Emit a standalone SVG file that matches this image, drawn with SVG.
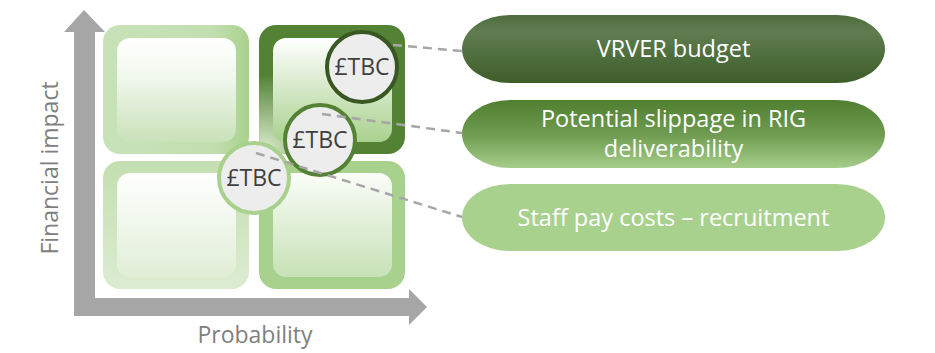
<svg xmlns="http://www.w3.org/2000/svg" width="935" height="353" viewBox="0 0 935 353">
  <defs>
    <linearGradient id="frameLight" x1="0" y1="0" x2="1" y2="0">
      <stop offset="0" stop-color="#c8e2b8"/>
      <stop offset="0.75" stop-color="#c3dfb0"/>
      <stop offset="1" stop-color="#a9d18e"/>
    </linearGradient>
    <linearGradient id="frameFade" x1="0" y1="0" x2="0" y2="1">
      <stop offset="0" stop-color="#c3dfb0"/>
      <stop offset="1" stop-color="#dcecd1"/>
    </linearGradient>
    <linearGradient id="innerTL" x1="0" y1="0" x2="0" y2="1">
      <stop offset="0" stop-color="#ffffff"/>
      <stop offset="0.35" stop-color="#f2f8ee"/>
      <stop offset="1" stop-color="#c9e2b9"/>
    </linearGradient>
    <linearGradient id="innerBL" x1="0" y1="0" x2="0" y2="1">
      <stop offset="0" stop-color="#ffffff"/>
      <stop offset="1" stop-color="#e0eed6"/>
    </linearGradient>
    <linearGradient id="innerTR" x1="0" y1="0" x2="0" y2="1">
      <stop offset="0" stop-color="#ffffff"/>
      <stop offset="1" stop-color="#a9d18e"/>
    </linearGradient>
    <linearGradient id="innerBR" x1="0" y1="0" x2="0" y2="1">
      <stop offset="0" stop-color="#fafdf8"/>
      <stop offset="1" stop-color="#c7e1b6"/>
    </linearGradient>
    <radialGradient id="glowTR" cx="265" cy="150" r="75" gradientUnits="userSpaceOnUse">
      <stop offset="0" stop-color="#d8ebcb" stop-opacity="1"/>
      <stop offset="1" stop-color="#d8ebcb" stop-opacity="0"/>
    </radialGradient>
    <linearGradient id="pillDark" x1="0" y1="0" x2="0" y2="1">
      <stop offset="0" stop-color="#4e6d3c"/>
      <stop offset="0.25" stop-color="#5f7d50"/>
      <stop offset="1" stop-color="#3d5d29"/>
    </linearGradient>
    <linearGradient id="pillMid" x1="0" y1="0" x2="0" y2="1">
      <stop offset="0" stop-color="#4f7f30"/>
      <stop offset="0.5" stop-color="#6e9b50"/>
      <stop offset="1" stop-color="#a6ce8b"/>
    </linearGradient>
    <style>
      .axis { fill: #a6a6a6; }
      .axis-label { font-family: "Open Sans", "Liberation Sans", sans-serif; font-size: 23px; fill: #7f7f7f; }
      .bubble { fill: #ededed; stroke-width: 4; }
      .bubble-text { font-family: "Open Sans", "Liberation Sans", sans-serif; font-size: 23px; fill: #404040; text-anchor: middle; }
      .pill-text { font-family: "Open Sans", "Liberation Sans", sans-serif; font-size: 23.5px; fill: #ffffff; text-anchor: middle; }
      .link { stroke: #a6a6a6; stroke-width: 2.5; stroke-dasharray: 9 6; fill: none; }
    </style>
  </defs>

  <!-- axes -->
  <g id="axes">
    <path class="axis" d="M74,32 L64,32 L84,10 L105,32 L95,32 L95,298 L409,298 L409,289 L427,307 L409,325 L409,316 L74,316 Z"/>
    <text class="axis-label" transform="translate(58,168) rotate(-90)" text-anchor="middle">Financial impact</text>
    <text class="axis-label" x="255" y="343" text-anchor="middle">Probability</text>
  </g>

  <!-- quadrants -->
  <g id="quad-top-left">
    <rect x="103" y="25" width="146" height="129" rx="17" fill="url(#frameLight)"/>
    <rect x="117" y="38" width="119" height="104" rx="13" fill="url(#innerTL)"/>
  </g>
  <g id="quad-bottom-left">
    <rect x="103" y="161" width="146" height="128" rx="17" fill="url(#frameFade)"/>
    <rect x="117" y="173" width="119" height="104" rx="13" fill="url(#innerBL)"/>
  </g>
  <g id="quad-top-right">
    <rect x="259" y="25" width="146" height="129" rx="17" fill="#548235"/>
    <rect x="259" y="25" width="146" height="129" rx="17" fill="url(#glowTR)"/>
    <rect x="273" y="38" width="119" height="104" rx="13" fill="url(#innerTR)"/>
  </g>
  <g id="quad-bottom-right">
    <rect x="259" y="161" width="146" height="128" rx="17" fill="#a9d18e"/>
    <rect x="273" y="173" width="119" height="104" rx="13" fill="url(#innerBR)"/>
  </g>

  <!-- risk bubbles -->
  <g id="bubble-staff">
    <circle class="bubble" cx="254" cy="178" r="35" stroke="#a9d18e"/>
    <text class="bubble-text" x="254" y="186">£TBC</text>
  </g>
  <g id="bubble-rig">
    <circle class="bubble" cx="320" cy="140" r="35" stroke="#548235"/>
    <text class="bubble-text" x="320" y="148">£TBC</text>
  </g>
  <g id="bubble-vrver">
    <circle class="bubble" cx="362" cy="67" r="35" stroke="#385723"/>
    <text class="bubble-text" x="362" y="75">£TBC</text>
  </g>

  <!-- connectors -->
  <g id="connectors">
    <line class="link" x1="393" y1="45" x2="462" y2="51"/>
    <line class="link" x1="322" y1="114" x2="462" y2="133"/>
    <line class="link" x1="256" y1="153" x2="462" y2="217"/>
  </g>

  <!-- labels -->
  <g id="label-vrver">
    <rect x="462" y="15" width="423" height="68" rx="48" ry="34" fill="url(#pillDark)"/>
    <text class="pill-text" x="673.5" y="57">VRVER budget</text>
  </g>
  <g id="label-rig">
    <rect x="462" y="100" width="423" height="68" rx="48" ry="34" fill="url(#pillMid)"/>
    <text class="pill-text" x="673.5" y="127">Potential slippage in RIG</text>
    <text class="pill-text" x="673.5" y="157">deliverability</text>
  </g>
  <g id="label-staff">
    <rect x="462" y="184" width="423" height="67" rx="48" ry="34" fill="#a9d18e"/>
    <text class="pill-text" x="673.5" y="226">Staff pay costs – recruitment</text>
  </g>
</svg>
